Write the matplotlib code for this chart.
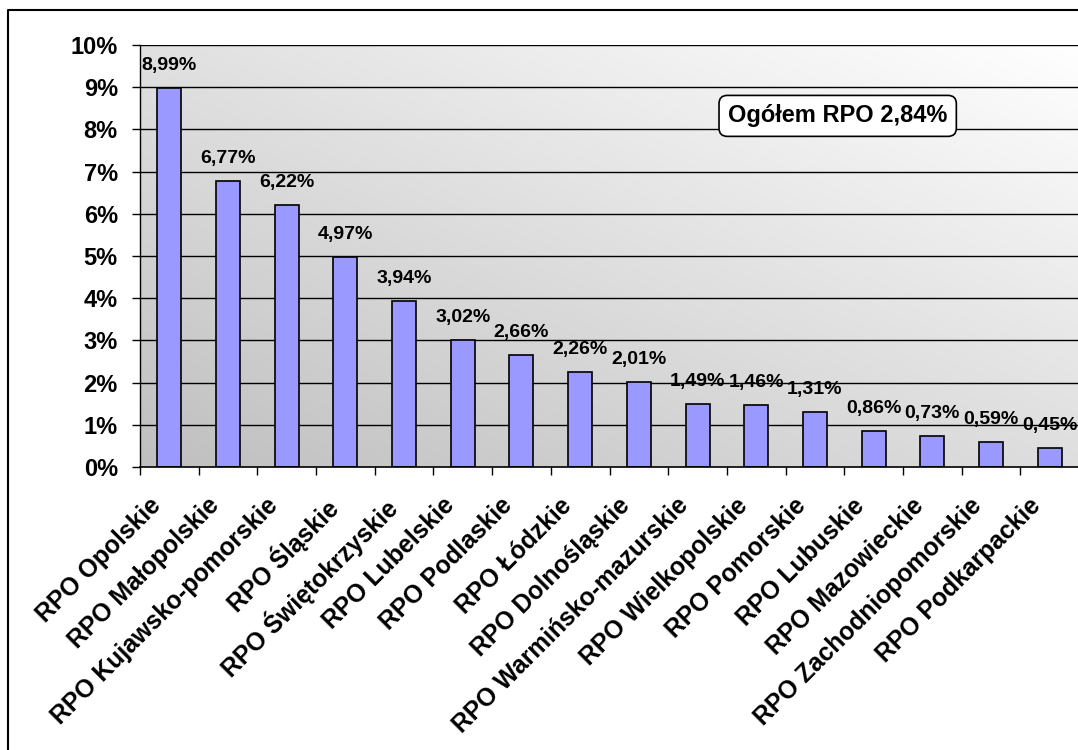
import numpy as np
import matplotlib.pyplot as plt
import matplotlib.transforms as mtransforms
from matplotlib.lines import Line2D

plt.rcParams['font.family'] = ['Liberation Sans', 'DejaVu Sans']
plt.rcParams['font.weight'] = 'bold'

# Data
regions = [
    "RPO Opolskie", "RPO Małopolskie", "RPO Kujawsko-pomorskie", "RPO Śląskie",
    "RPO Świętokrzyskie", "RPO Lubelskie", "RPO Podlaskie", "RPO Łódzkie",
    "RPO Dolnośląskie", "RPO Warmińsko-mazurskie", "RPO Wielkopolskie",
    "RPO Pomorskie", "RPO Lubuskie", "RPO Mazowieckie", "RPO Zachodniopomorskie",
    "RPO Podkarpackie",
]
values = [8.99, 6.77, 6.22, 4.97, 3.94, 3.02, 2.66, 2.26, 2.01, 1.49, 1.46,
          1.31, 0.86, 0.73, 0.59, 0.45]
total_label = "Ogółem RPO 2,84%"
y_ticks = list(range(0, 11))

fig = plt.figure(figsize=(10.78, 7.5), dpi=100)
W, H = 1078, 750
left, right, top, bottom = 140, 1079, 45, 467
ax = fig.add_axes([left / W, 1 - bottom / H, (right - left) / W, (bottom - top) / H])

n = len(values)
x = np.arange(n)

# gradient background (grey bottom-left to white top-right)
gx = np.linspace(0, 1, 200)
gy = np.linspace(0, 1, 200)
GX, GY = np.meshgrid(gx, gy)
G = np.clip(0.75 + 0.12 * GX + 0.13 * GY, 0, 1)
img = np.dstack([G, G, G])
ax.imshow(img, extent=[-0.5, n - 0.5, 0, 10], origin='lower', aspect='auto', zorder=0)

for yv in y_ticks[1:]:
    ax.axhline(yv, color='black', lw=1, zorder=1)

ax.bar(x, values, width=0.41, color='#9999FF', edgecolor='black', lw=1.2, zorder=2)

for xi, v in zip(x, values):
    ax.annotate(f"{v:.2f}%".replace('.', ','), (xi, v), xytext=(0, 10),
                textcoords='offset points', ha='center', va='bottom',
                fontsize=14, fontweight='bold', zorder=3)

ax.set_xlim(-0.5, n - 0.5)
ax.set_ylim(0, 10)
ax.set_yticks(y_ticks)
ax.set_yticklabels([f"{t}%" for t in y_ticks], fontsize=17, fontweight='bold')
ax.tick_params(axis='y', direction='out', length=6, width=1, pad=10)

ax.set_xticks(x)
ax.set_xticklabels(regions, rotation=45, ha='right', va='top', rotation_mode='anchor',
                   fontsize=17.8, fontweight='bold')
ax.tick_params(axis='x', length=0, pad=19)
shift = mtransforms.ScaledTranslation(-21 / 100, 0, fig.dpi_scale_trans)
for lab in ax.get_xticklabels():
    lab.set_transform(lab.get_transform() + shift)
ax.set_xticks(np.arange(n + 1) - 0.5, minor=True)
ax.tick_params(axis='x', which='minor', direction='out', length=6, width=1)

for s in ['top', 'right']:
    ax.spines[s].set_visible(False)
ax.spines['left'].set_linewidth(1)
ax.spines['bottom'].set_linewidth(1.2)

ax.text(0.743, 0.832, total_label, transform=ax.transAxes, ha='center', va='center',
        fontsize=17, fontweight='bold',
        bbox=dict(boxstyle='round,pad=0.38,rounding_size=0.35', fc='white', ec='black', lw=1.2),
        zorder=4)

# outer chart border (left and top edges only visible)
fig.add_artist(Line2D([8 / W, 8 / W, 1.0], [0.0, 1 - 9.5 / H, 1 - 9.5 / H],
                      transform=fig.transFigure, color='black', lw=1.5))

fig.savefig('out.png', dpi=100)
